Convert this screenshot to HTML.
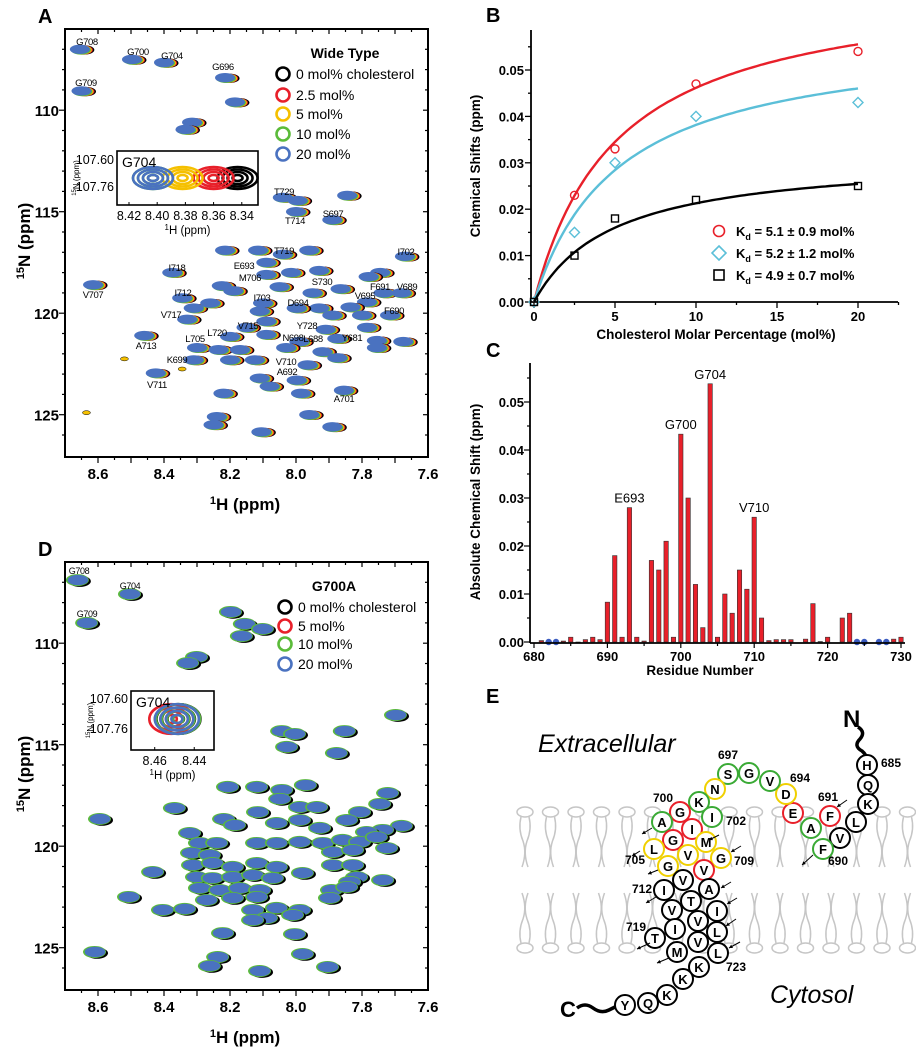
<!DOCTYPE html>
<html><head><meta charset="utf-8"><style>
html,body{margin:0;padding:0;background:#fff}
svg{display:block;font-family:"Liberation Sans",sans-serif}
</style></head><body>
<svg id="fig" xmlns="http://www.w3.org/2000/svg" width="916" height="1050" viewBox="0 0 916 1050">
<rect width="916" height="1050" fill="#fff"/>
<g font-weight="bold" font-size="20">
<text x="38" y="23">A</text><text x="486" y="22">B</text><text x="486" y="357">C</text><text x="38" y="556">D</text><text x="486" y="703">E</text>
</g>
</svg>
<script>
const specH=[8.655,8.497,8.40,8.215,8.65,8.185,8.315,8.335,8.04,7.995,8.0,7.89,7.845,8.215,8.115,8.04,7.96,7.67,8.09,8.375,8.09,8.015,7.93,7.745,7.78,8.615,8.225,8.19,8.05,7.865,7.735,7.68,8.345,7.95,8.1,7.785,8.31,8.26,7.93,7.835,7.998,8.11,7.715,8.33,7.89,7.80,8.09,8.15,7.91,7.785,8.46,8.20,8.09,7.99,7.875,7.755,7.675,8.30,8.235,8.17,8.03,7.92,7.755,8.31,8.2,8.125,7.875,7.965,8.425,8.11,7.998,8.08,7.855,8.22,7.985,7.96,8.24,8.25,7.89,8.105];
const specN=[107.0,107.5,107.65,108.4,109.05,109.6,110.6,110.95,114.3,114.45,115.0,115.4,114.2,116.9,116.9,117.1,116.9,117.2,117.5,118.0,118.1,118.0,117.9,118.0,118.2,118.6,118.65,118.9,118.7,118.8,119.0,119.0,119.25,119.0,119.5,119.45,119.75,119.5,119.75,119.7,119.75,119.9,120.1,120.3,120.1,120.1,120.4,120.7,120.8,120.7,121.1,121.15,121.05,121.4,121.25,121.35,121.4,121.7,121.8,121.8,121.7,121.9,121.7,122.3,122.3,122.3,122.2,122.55,122.95,123.2,123.3,123.6,123.8,123.95,123.95,125.0,125.1,125.5,125.6,125.85];
const smallH=[8.635,8.52,8.345];
const smallN=[124.9,122.25,122.75];
const mutH=[8.661,8.503,8.633,8.197,8.155,8.164,8.10,8.30,8.327,7.697,8.042,8.003,7.852,8.027,7.876,8.206,8.118,8.042,7.97,7.721,7.745,8.367,8.048,7.988,7.936,7.806,8.594,8.218,8.185,8.115,8.058,7.988,7.845,7.679,7.736,7.785,7.927,8.321,8.291,8.239,8.315,8.261,8.118,8.058,7.988,7.918,7.858,7.806,7.755,7.724,7.888,7.827,8.312,8.252,8.191,8.118,8.058,7.888,7.827,8.433,8.30,8.252,8.191,8.13,8.07,7.979,7.815,7.736,7.836,8.291,8.23,8.17,8.109,7.891,7.845,8.27,8.191,8.118,7.897,8.506,8.403,8.336,8.13,8.058,7.988,8.088,8.009,8.13,8.221,8.003,7.979,8.236,8.261,8.109,7.903,8.609];
const mutN=[106.89,107.58,109.0,108.46,109.05,109.65,109.3,110.68,110.98,113.54,114.33,114.47,114.33,115.11,115.41,117.08,117.08,117.23,116.99,117.38,117.92,118.12,117.67,118.07,118.07,118.32,118.66,118.66,118.96,118.32,118.86,118.71,118.71,119.0,119.2,119.3,119.1,119.35,119.84,119.84,120.33,120.43,119.84,119.84,119.79,119.84,119.69,119.79,119.55,120.09,120.29,120.19,120.93,120.83,121.02,120.83,121.02,120.93,120.93,121.27,121.52,121.57,121.52,121.42,121.57,121.32,121.52,121.67,121.76,122.06,122.16,122.06,122.16,122.16,122.01,122.65,122.55,122.5,122.55,122.5,123.14,123.09,123.14,123.04,123.14,123.54,123.39,123.64,124.28,124.33,125.31,125.46,125.9,126.15,125.95,125.21];
const hTicks=[8.6,8.4,8.2,8.0,7.8,7.6];
const nTicks=[110,115,120,125];
const insetA_H=[8.343,8.360,8.382,8.403,8.403];
const insetD_H=[8.448,8.452,8.449,8.450];
const bX=[0,2.5,5,10,20];
const bRed=[0,0.023,0.033,0.047,0.054];
const bCyan=[0,0.015,0.030,0.040,0.043];
const bBlack=[0,0.010,0.018,0.022,0.025];
const bKd=[5.1,5.2,4.9];
const bMax=[0.0697,0.058,0.0317];
const bLegend=["5.1 \u00b1 0.9 mol%","5.2 \u00b1 1.2 mol%","4.9 \u00b1 0.7 mol%"];
const bXTicks=[0,5,10,15,20];
const bYTicks=[0,0.01,0.02,0.03,0.04,0.05];
const cRes=[681,684,685,686,687,688,689,690,691,692,693,694,695,696,697,698,699,700,701,702,703,704,705,706,707,708,709,710,711,712,713,714,715,717,718,719,720,722,723,729,730];
const cVal=[0.0003,0.0002,0.001,0.0000,0.0005,0.001,0.0005,0.0083,0.018,0.001,0.028,0.001,0.0002,0.017,0.015,0.021,0.001,0.0433,0.030,0.012,0.003,0.0538,0.001,0.010,0.006,0.015,0.011,0.026,0.005,0.0003,0.0005,0.0005,0.0005,0.0006,0.008,0.0001,0.001,0.005,0.006,0.0006,0.001];
const cMissing=[682,683,724,725,727,728];
const cLabels=["E693","G700","G704","V710"];
const cLabelRes=[693,700,704,710];
const cXTicks=[680,690,700,710,720,730];

const NS='http://www.w3.org/2000/svg';
const svg=document.getElementById('fig');
function mk(tag,attrs,parent){const e=document.createElementNS(NS,tag);for(const k in attrs)e.setAttribute(k,attrs[k]);(parent||svg).appendChild(e);return e;}
function grp(name){const g=mk('g',{});return g;}
function txt(g,x,y,s,attrs){const t=mk('text',Object.assign({x:x,y:y},attrs||{}),g);t.textContent=s;return t;}
function sup(g,x,y,pre,base,fs,anchor,rot){const t=mk('text',{x:x,y:y,'font-size':fs,'font-weight':'bold','text-anchor':anchor||'middle'},g);if(rot)t.setAttribute('transform',rot);const a=mk('tspan',{'font-size':fs*0.65,dy:-fs*0.35},t);a.textContent=pre;const b=mk('tspan',{dy:fs*0.35},t);b.textContent=base;return t;}

/* ---------- NMR panels ---------- */
function nmrPanel(name,top,hArr,nArr,mode){
  const L=65,R=428,T=top,B=top+428;
  const ax=h=>L+(8.7-h)*330;
  const ay=n=>T+(n-106)*20.3;
  const g=grp(name);
  const pk=grp(name+'-peaks');g.appendChild(pk);
  for(let i=0;i<hArr.length;i++){
    const x=ax(hArr[i]),y=ay(nArr[i]);
    if(mode==='wt'){
      const layers=[['#000',4.5],['#e8202a',3],['#f5c000',2],['#5bbb3a',1],['#4a72c0',0]];
      for(const [c,o] of layers){const e=mk('ellipse',{cx:x+o,cy:y+(o>0?0.6:0),rx:10,ry:4.7,fill:c},pk);}
    } else {
      const e1=mk('ellipse',{cx:x+2,cy:y+1.2,rx:11,ry:5.6,fill:'#000'},pk);
      const e2=mk('ellipse',{cx:x-0.5,cy:y,rx:11.5,ry:6,fill:'#5bbb3a'},pk);
      const e3=mk('ellipse',{cx:x,cy:y,rx:10.3,ry:5.2,fill:'#4a72c0'},pk);
    }
  }
  if(mode==='wt'){
    for(let i=0;i<smallH.length;i++){const e=mk('ellipse',{cx:ax(smallH[i]),cy:ay(smallN[i]),rx:4,ry:2,fill:'#f5c000',stroke:'#000','stroke-width':0.5},pk);}
  }
  const fr=mk('rect',{x:L,y:T,width:R-L,height:B-T,fill:'none',stroke:'#000','stroke-width':2},g);
  
  const tk=grp(name+'-ticks');g.appendChild(tk);
  for(let h=8.65;h>7.6;h-=0.05){const x=ax(h);const big=Math.abs(Math.round(h*10)-h*10)<0.01;mk('line',{x1:x,x2:x,y1:T,y2:T+(big?5:3),stroke:'#000','stroke-width':1.2},tk);mk('line',{x1:x,x2:x,y1:B,y2:B+(big?6:3),stroke:'#000','stroke-width':1.2},tk);}
  for(let n=107;n<=126;n++){const y=ay(n);const big=n%5===0;mk('line',{x1:L-(big?6:3),x2:L,y1:y,y2:y,stroke:'#000','stroke-width':1.2},tk);mk('line',{x1:R,x2:R-(big?5:3),y1:y,y2:y,stroke:'#000','stroke-width':1.2},tk);}
  const tl=grp(name+'-tick-labels');g.appendChild(tl);
  hTicks.forEach(h=>txt(tl,ax(h),B+22,h.toFixed(1),{'font-size':15,'font-weight':'bold','text-anchor':'middle'}));
  nTicks.forEach(n=>txt(tl,L-6,ay(n)+6,String(n),{'font-size':15,'font-weight':'bold','text-anchor':'end'}));
  const xl=sup(g,245,B+53,'1','H  (ppm)',17);
  const yl=sup(g,0,0,'15','N  (ppm)',17,'middle','translate(30,'+(T+212)+') rotate(-90)');
  return {ax,ay,g};
}

const A=nmrPanel('panel-a-spectrum',29,specH,specN,'wt');
const D=nmrPanel('panel-d-spectrum',562,mutH,mutN,'mut');

/* labels panel A */
(function(){
  const g=grp('panel-a-peak-labels');
  const labs=[["G708",87,45],["G700",138,55],["G704",172,59],["G696",223,70],["G709",86,86],["T729",284,195],["T714",295,224],["S697",333,217],["T719",284,254],["I702",406,255],["E693",244,269],["I718",177,271],["M706",250,281],["S730",322,285],["F691",380,290],["V689",407,290],["V707",93,298],["I712",183,296],["V695",365,299],["I703",262,301],["D694",298,306],["V717",171,318],["F690",394,314],["V715",248,329],["Y728",307,329],["L720",217,336],["L705",195,342],["N698",293,341],["L688",313,342],["Y681",352,341],["A713",146,349],["K699",177,363],["V710",286,365],["A692",287,375],["V711",157,388],["A701",344,402]];
  labs.forEach(l=>txt(g,l[1],l[2],l[0],{'font-size':9.5,'text-anchor':'middle','letter-spacing':'-0.4'}));
  const gd=grp('panel-d-peak-labels');
  [["G708",79,574],["G704",130,589],["G709",87,617]].forEach(l=>txt(gd,l[1],l[2],l[0],{'font-size':9,'text-anchor':'middle','letter-spacing':'-0.4'}));
})();

/* legends A and D */
function nmrLegend(name,title,tx,ty,cx,ys,cols,labels){
  const g=grp(name);
  txt(g,tx,ty,title,{'font-size':14,'font-weight':'bold','text-anchor':'middle'});
  ys.forEach((y,i)=>{const c=mk('circle',{cx:cx,cy:y,r:6.5,fill:'none',stroke:cols[i],'stroke-width':2.6},g);txt(g,cx+13,y+5,labels[i],{'font-size':14});});
}
nmrLegend('panel-a-legend','Wide Type',345,58,283,[74,95,114,134,154],['#000','#e8202a','#f5c000','#5bbb3a','#4a72c0'],['0 mol% cholesterol','2.5 mol%','5 mol%','10 mol%','20 mol%']);
nmrLegend('panel-d-legend','G700A',334,591,285,[607,626,644,664],['#000','#e8202a','#5bbb3a','#4a72c0'],['0 mol% cholesterol','5 mol%','10 mol%','20 mol%']);

/* insets */
function inset(name,bx,by,bw,bh,h0,h1,ticks,yt,cols,hArr,cy,label){
  const g=grp(name);
  mk('rect',{x:bx,y:by,width:bw,height:bh,fill:'#fff',stroke:'#000','stroke-width':1.6},g);
  const ix=h=>bx+(h0-h)/(h0-h1)*bw;
  const rs=[[20,11],[15,8.5],[10,6],[5,3]];
  hArr.forEach((h,i)=>{rs.forEach(r=>{const e=mk('ellipse',{cx:ix(h)+(name==='panel-d-inset'?i*0.8:0),cy:cy,rx:r[0]*(name==='panel-d-inset'?1.1:1),ry:r[1]*(name==='panel-d-inset'?1.35:1),fill:'none',stroke:cols[i],'stroke-width':2.6},g);});});
  txt(g,bx+5,by+16,label,{'font-size':14});
  ticks.forEach(t=>{const x=ix(t);mk('line',{x1:x,x2:x,y1:by+bh,y2:by+bh-3,stroke:'#000'},g);txt(g,x,by+bh+15,t.toFixed(2),{'font-size':12.5,'text-anchor':'middle'});});
  txt(g,bx-3,yt[0],'107.60',{'font-size':12.5,'text-anchor':'end'});
  txt(g,bx-3,yt[1],'107.76',{'font-size':12.5,'text-anchor':'end'});
  const xl=mk('text',{x:bx+bw/2,y:by+bh+29,'font-size':11.5,'text-anchor':'middle'},g);
  const s1=mk('tspan',{'font-size':8,dy:-4},xl);s1.textContent='1';const s2=mk('tspan',{dy:4},xl);s2.textContent='H  (ppm)';
  const yl=mk('text',{transform:'translate('+(bx-38)+','+(by+bh/2)+') rotate(-90)','font-size':8,'text-anchor':'middle'},g);
  const s3=mk('tspan',{'font-size':6,dy:-3},yl);s3.textContent='15';const s4=mk('tspan',{dy:3},yl);s4.textContent='N  (ppm)';
}
inset('panel-a-inset',117,151,141,54,8.4285,8.3285,[8.42,8.40,8.38,8.36,8.34],[164,191],['#000','#e8202a','#f5c000','#5bbb3a','#4a72c0'],insetA_H,178,'G704');
inset('panel-d-inset',131,691,83,59,8.472,8.43,[8.46,8.44],[703,733],['#000','#e8202a','#5bbb3a','#4a72c0'],insetD_H,719,'G704');

/* ---------- Panel B ---------- */
(function(){
  const L=534,B=302;
  const bx=x=>L+x*16.2;
  const by=y=>B-y*4640;
  const g=grp('panel-b-titration');
  mk('line',{x1:L-3,x2:898,y1:B,y2:B,stroke:'#000','stroke-width':1.8},g);
  mk('line',{x1:L-3,x2:L-3,y1:30,y2:B,stroke:'#000','stroke-width':1.8},g);
  for(let x=0;x<=22.5;x+=2.5){const big=x%5===0;mk('line',{x1:bx(x),x2:bx(x),y1:B,y2:B+(big?6:3),stroke:'#000','stroke-width':1.3},g);}
  for(let y=0;y<=0.0575;y+=0.005){const big=Math.round(y*1000)%10===0;mk('line',{x1:L-3,x2:L-3-(big?6:3),y1:by(y),y2:by(y),stroke:'#000','stroke-width':1.3},g);}
  bXTicks.forEach(t=>txt(g,bx(t),B+19,String(t),{'font-size':13,'font-weight':'bold','text-anchor':'middle'}));
  bYTicks.forEach(t=>txt(g,L-10,by(t)+5,t.toFixed(2),{'font-size':13,'font-weight':'bold','text-anchor':'end'}));
  const xt=txt(g,716,339,'Cholesterol Molar Percentage (mol%)',{'font-size':13.5,'font-weight':'bold','text-anchor':'middle'});
  
  const yt=txt(g,0,0,'Chemical Shifts (ppm)',{'font-size':13.5,'font-weight':'bold','text-anchor':'middle',transform:'translate(480,166) rotate(-90)'});
  
  const cols=['#e8202a','#5bbfd8','#000'];
  const series=[bRed,bCyan,bBlack];
  series.forEach((s,k)=>{
    let d='';for(let x=0;x<=20;x+=0.25){const y=bMax[k]*x/(bKd[k]+x);d+=(x===0?'M':'L')+bx(x).toFixed(1)+','+by(y).toFixed(1);}
    const p=mk('path',{d:d,fill:'none',stroke:cols[k],'stroke-width':2.4},g);
    
    s.forEach((v,i)=>{
      const x=bx(bX[i]),y=by(v);let m;
      if(k===0)m=mk('circle',{cx:x,cy:y,r:4,fill:'none',stroke:cols[k],'stroke-width':1.4},g);
      else if(k===1)m=mk('path',{d:`M${x},${y-5}L${x+5},${y}L${x},${y+5}L${x-5},${y}Z`,fill:'none',stroke:cols[k],'stroke-width':1.4},g);
      else m=mk('rect',{x:x-3.5,y:y-3.5,width:7,height:7,fill:'none',stroke:cols[k],'stroke-width':1.4},g);
      
    });
  });
  const lg=grp('panel-b-legend');
  [231,253,275].forEach((y,k)=>{
    const x=719;let m;
    if(k===0)m=mk('circle',{cx:x,cy:y,r:5.5,fill:'none',stroke:cols[k],'stroke-width':1.6},lg);
    else if(k===1)m=mk('path',{d:`M${x},${y-7}L${x+7},${y}L${x},${y+7}L${x-7},${y}Z`,fill:'none',stroke:cols[k],'stroke-width':1.6},lg);
    else m=mk('rect',{x:x-5,y:y-5,width:10,height:10,fill:'none',stroke:cols[k],'stroke-width':1.6},lg);
    
    const t=mk('text',{x:736,y:y+5,'font-size':13,'font-weight':'bold'},lg);
    const a=mk('tspan',{},t);a.textContent='K';const b=mk('tspan',{'font-size':9,dy:4},t);b.textContent='d';const c=mk('tspan',{dy:-4},t);c.textContent=' = '+bLegend[k];
  });
})();

/* ---------- Panel C ---------- */
(function(){
  const L=534,B=642;
  const cx=r=>L+(r-680)*7.34;
  const cy=v=>B-v*4800;
  const g=grp('panel-c-bar-chart');
  cRes.forEach((r,i)=>{const b=mk('rect',{x:cx(r)-2.2,y:cy(cVal[i]),width:4.4,height:Math.max(0.5,B-cy(cVal[i])),fill:'#e8202a',stroke:'#333','stroke-width':0.6},g);});
  cMissing.forEach(r=>{const c=mk('circle',{cx:cx(r),cy:B,r:3.2,fill:'#3a5bc0'},g);});
  mk('line',{x1:L-4,x2:905,y1:B+1,y2:B+1,stroke:'#000','stroke-width':1.8},g);
  mk('line',{x1:L-4,x2:L-4,y1:363,y2:B+1,stroke:'#000','stroke-width':1.8},g);
  for(let r=680;r<=730;r+=5){const big=r%10===0;mk('line',{x1:cx(r),x2:cx(r),y1:B+1,y2:B+(big?6:4),stroke:'#000','stroke-width':1.2},g);}
  for(let v=0;v<=0.0555;v+=0.005){const big=Math.round(v*1000)%10===0;mk('line',{x1:L-4,x2:L-4-(big?6:3),y1:cy(v),y2:cy(v),stroke:'#000','stroke-width':1.2},g);}
  cXTicks.forEach(t=>txt(g,cx(t),B+19,String(t),{'font-size':13,'font-weight':'bold','text-anchor':'middle'}));
  bYTicks.forEach(t=>txt(g,L-10,cy(t)+5,t.toFixed(2),{'font-size':13,'font-weight':'bold','text-anchor':'end'}));
  cLabels.forEach((l,i)=>{const v=cVal[cRes.indexOf(cLabelRes[i])];txt(g,cx(cLabelRes[i]),cy(v)-5,l,{'font-size':13,'text-anchor':'middle'});});
  const xt=txt(g,700,675,'Residue Number',{'font-size':13.5,'font-weight':'bold','text-anchor':'middle'});
  const yt=txt(g,0,0,'Absolute Chemical Shift (ppm)',{'font-size':13.5,'font-weight':'bold','text-anchor':'middle',transform:'translate(480,502) rotate(-90)'});
})();

/* ---------- Panel E ---------- */
(function(){
  const g=grp('panel-e-topology');
  const lip=grp('membrane-lipids');g.appendChild(lip);
  for(let x=525;x<916;x+=25.5){
    mk('ellipse',{cx:x,cy:812,rx:8,ry:5,fill:'none',stroke:'#c6c6c6','stroke-width':1.5},lip);
    mk('path',{d:`M${x-4},817 q-3,12 2,24 q4,12 -1,26 M${x+4},817 q3,12 -2,24 q-4,12 1,26`,fill:'none',stroke:'#c6c6c6','stroke-width':1.5},lip);
    mk('ellipse',{cx:x,cy:948,rx:8,ry:5,fill:'none',stroke:'#c6c6c6','stroke-width':1.5},lip);
    mk('path',{d:`M${x-4},943 q-3,-12 2,-24 q4,-12 -1,-26 M${x+4},943 q3,-12 -2,-24 q-4,-12 1,-26`,fill:'none',stroke:'#c6c6c6','stroke-width':1.5},lip);
  }
  txt(g,538,752,'Extracellular',{'font-size':25,'font-style':'italic'});
  txt(g,770,1003,'Cytosol',{'font-size':25,'font-style':'italic'});
  txt(g,843,727,'N',{'font-size':24,'font-weight':'bold'});
  txt(g,560,1017,'C',{'font-size':22,'font-weight':'bold'});
  mk('path',{d:'M858,727 q8,5 2,12 q-7,7 2,12 q6,5 5,12',fill:'none',stroke:'#000','stroke-width':3.5},g);
  mk('path',{d:'M577,1008 q8,-6 16,0 q8,6 16,2 q6,-3 8,-4',fill:'none',stroke:'#000','stroke-width':3.5},g);
  const res=[["H",867,765,'#000'],["Q",868,785,'#000'],["K",868,804,'#000'],["L",856,822,'#000'],["V",840,838,'#000'],["F",823,849,'#3aaa35'],["F",830,816,'#e8202a'],["A",811,828,'#3aaa35'],["E",793,813,'#e8202a'],["D",786,794,'#f0d000'],["V",770,781,'#3aaa35'],["G",749,773,'#3aaa35'],["S",728,774,'#3aaa35'],["N",715,789,'#f0d000'],["K",699,802,'#3aaa35'],["I",712,817,'#3aaa35'],["G",680,812,'#e8202a'],["A",662,822,'#3aaa35'],["I",692,829,'#e8202a'],["G",673,840,'#e8202a'],["M",706,842,'#f0d000'],["L",654,849,'#f0d000'],["V",688,855,'#f0d000'],["G",721,858,'#f0d000'],["G",668,866,'#f0d000'],["V",704,870,'#e8202a'],["V",683,880,'#000'],["A",709,889,'#000'],["I",664,890,'#000'],["T",691,901,'#000'],["I",717,911,'#000'],["V",672,910,'#000'],["V",698,921,'#000'],["L",717,932,'#000'],["I",675,929,'#000'],["T",655,938,'#000'],["V",698,942,'#000'],["M",677,952,'#000'],["L",718,953,'#000'],["K",699,967,'#000'],["K",683,979,'#000'],["K",667,995,'#000'],["Q",648,1003,'#000'],["Y",625,1005,'#000']];
  res.forEach(r=>{const c=mk('circle',{cx:r[1],cy:r[2],r:10,fill:'#fff',stroke:r[3],'stroke-width':2},g);txt(g,r[1],r[2]+5,r[0],{'font-size':13,'font-weight':'bold','text-anchor':'middle'});});
  [["697",728,759],["694",800,782],["700",663,802],["691",828,801],["685",891,767],["702",736,825],["705",635,864],["709",744,865],["690",838,865],["712",642,893],["719",636,931],["723",736,971]].forEach(n=>txt(g,n[1],n[2],n[0],{'font-size':12,'font-weight':'bold','text-anchor':'middle'}));
  const arrows=[[847,800,837,807],[652,828,642,834],[719,835,709,840],[640,851,632,856],[741,846,731,852],[813,855,802,865],[658,870,648,874],[731,882,721,888],[656,897,646,903],[737,898,727,904],[736,919,726,926],[650,943,637,949],[740,942,729,948],[669,958,657,963]];
  arrows.forEach(a=>{const l=mk('line',{x1:a[0],y1:a[1],x2:a[2],y2:a[3],stroke:'#000','stroke-width':1},g);const ang=Math.atan2(a[3]-a[1],a[2]-a[0]);const s=4;mk('path',{d:`M${a[2]},${a[3]}L${a[2]-s*Math.cos(ang-0.5)},${a[3]-s*Math.sin(ang-0.5)}L${a[2]-s*Math.cos(ang+0.5)},${a[3]-s*Math.sin(ang+0.5)}Z`,fill:'#000'},g);});
})();
</script>
</body></html>
